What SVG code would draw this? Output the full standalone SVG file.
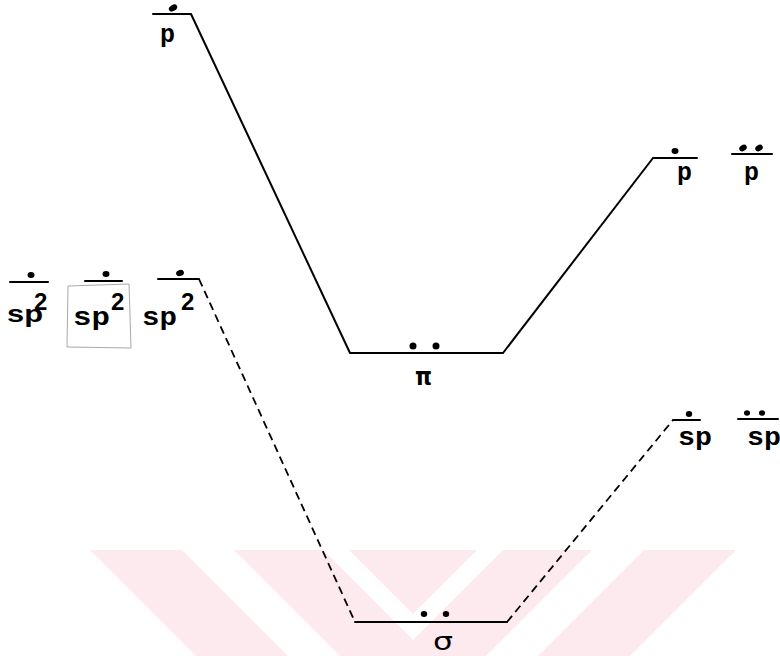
<svg xmlns="http://www.w3.org/2000/svg" width="780" height="656" viewBox="0 0 780 656">
  <style>
    .wm { fill: #fdeaee; stroke: none; }
    .lvl { fill: none; stroke: #000; stroke-width: 2; stroke-linecap: round; stroke-linejoin: round; }
    .solid { fill: none; stroke: #000; stroke-width: 2; stroke-linejoin: round; }
    .dash { fill: none; stroke: #000; stroke-width: 1.8; stroke-dasharray: 8 5; }
    .dot { fill: #000; }
    .mono { font-family: "Liberation Mono", "DejaVu Sans Mono", monospace; font-size: 25px; font-weight: bold; fill: #000; }
    .sans { font-family: "Liberation Sans", "DejaVu Sans", sans-serif; font-size: 24px; font-weight: bold; fill: #000; }
    .greek { font-family: "DejaVu Sans", "Liberation Sans", sans-serif; fill: #000; }
    .box { fill: none; stroke: #a8a8a8; stroke-width: 1; }
  </style>

  <g id="watermark">
    <polygon class="wm" points="90,550 182,550 288,656 196,656"/>
    <polygon class="wm" points="736,550 644,550 538,656 630,656"/>
    <polygon class="wm" points="234,550 323,550 413,640 503,550 592,550 486,656 340,656"/>
    <polygon class="wm" points="349,550 477,550 413,614"/>
  </g>

  <g id="connectors">
    <path class="solid" d="M191,14 L350,353"/>
    <path class="solid" d="M503,353 L653,158"/>
    <path class="dash" d="M199,279 L355,622"/>
    <path class="dash" d="M507,622 L673,420"/>
  </g>

  <g id="p-left">
    <path class="lvl" d="M153,14 H191"/>
    <ellipse class="dot" cx="173" cy="8" rx="4.5" ry="3" transform="rotate(-30 173 8)"/>
    <text class="mono" x="160" y="42">p</text>
  </g>

  <g id="p-right-1">
    <path class="lvl" d="M653,158 H697"/>
    <ellipse class="dot" cx="675" cy="151" rx="3.5" ry="3"/>
    <text class="mono" x="677" y="180">p</text>
  </g>

  <g id="p-right-2">
    <path class="lvl" d="M732,154 H772"/>
    <ellipse class="dot" cx="743" cy="148" rx="4" ry="3" transform="rotate(-30 743 148)"/>
    <ellipse class="dot" cx="759" cy="148" rx="4" ry="3" transform="rotate(-30 759 148)"/>
    <text class="mono" x="744" y="180">p</text>
  </g>

  <g id="pi">
    <path class="lvl" d="M350,353 H503"/>
    <ellipse class="dot" cx="413" cy="346" rx="3.5" ry="3.5"/>
    <ellipse class="dot" cx="436" cy="346" rx="3.5" ry="3.5"/>
    <text class="greek" x="415" y="385" font-size="24" font-weight="bold" textLength="17" lengthAdjust="spacingAndGlyphs">π</text>
  </g>

  <g id="sp2-1">
    <path class="lvl" d="M10,282 H48"/>
    <ellipse class="dot" cx="31" cy="275" rx="3.5" ry="3"/>
    <text class="sans" x="7" y="322" textLength="36" lengthAdjust="spacingAndGlyphs">sp</text>
    <text class="sans" x="34" y="310">2</text>
  </g>

  <g id="sp2-2">
    <path class="box" d="M68,286 L129,284 L131,348 L67,347 Z"/>
    <path class="lvl" d="M85,281 H122"/>
    <ellipse class="dot" cx="106" cy="274" rx="3.5" ry="3"/>
    <text class="mono" x="73" y="325" textLength="37" lengthAdjust="spacingAndGlyphs">sp</text>
    <text class="sans" x="111" y="310">2</text>
  </g>

  <g id="sp2-3">
    <path class="lvl" d="M158,279 H199"/>
    <ellipse class="dot" cx="180" cy="273" rx="4" ry="3" transform="rotate(-20 180 273)"/>
    <text class="mono" x="142" y="325" textLength="35" lengthAdjust="spacingAndGlyphs">sp</text>
    <text class="sans" x="181" y="310">2</text>
  </g>

  <g id="sigma">
    <path class="lvl" d="M355,622 H507"/>
    <ellipse class="dot" cx="424" cy="614" rx="3.2" ry="3"/>
    <ellipse class="dot" cx="446" cy="614" rx="3.2" ry="3"/>
    <text class="greek" x="433" y="650" font-size="24" textLength="20" lengthAdjust="spacingAndGlyphs">σ</text>
  </g>

  <g id="sp-right-1">
    <path class="lvl" d="M673,420 H700"/>
    <ellipse class="dot" cx="689" cy="414" rx="3.2" ry="3"/>
    <text class="mono" x="678" y="445" textLength="34" lengthAdjust="spacingAndGlyphs">sp</text>
  </g>

  <g id="sp-right-2">
    <path class="lvl" d="M738,419 H778"/>
    <ellipse class="dot" cx="747" cy="413" rx="3" ry="2.8"/>
    <ellipse class="dot" cx="762" cy="413" rx="3" ry="2.8"/>
    <text class="mono" x="747" y="445" textLength="34" lengthAdjust="spacingAndGlyphs">sp</text>
  </g>
</svg>
